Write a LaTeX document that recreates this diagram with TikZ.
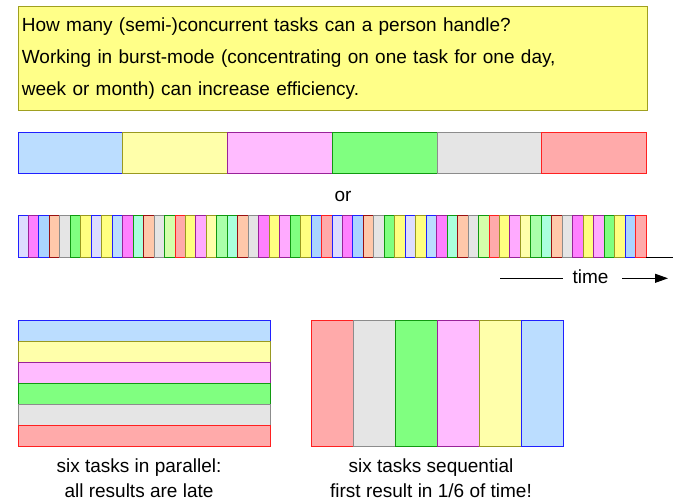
\documentclass[tikz,border=0pt]{standalone}
\usepackage{fontspec}
\setmainfont{Liberation Sans}
\usetikzlibrary{arrows.meta,positioning}
\definecolor{NoteFill}{HTML}{FFFF88}
\definecolor{NoteLine}{HTML}{A0A020}
\definecolor{TaskBlue}{HTML}{BBDDFF}
\definecolor{TaskYellow}{HTML}{FFFFAA}
\definecolor{TaskPink}{HTML}{FFBBFF}
\definecolor{TaskGreen}{HTML}{80FF80}
\definecolor{TaskGray}{HTML}{E5E5E5}
\definecolor{TaskRed}{HTML}{FFAAAA}
\definecolor{Lav}{HTML}{DDDDFF}
\definecolor{Mag}{HTML}{FF80FF}
\definecolor{Sky}{HTML}{AAD4FF}
\definecolor{Peach}{HTML}{FFC8AA}
\definecolor{Mint}{HTML}{AAFFDD}
\definecolor{Lime}{HTML}{D4FFAA}
\definecolor{LPink}{HTML}{FFAAFF}
\definecolor{LGreen}{HTML}{AAFFAA}
\definecolor{Yel}{HTML}{FFFF80}
\definecolor{LineBlue}{HTML}{2020FF}
\definecolor{LineOlive}{HTML}{999920}
\definecolor{LinePurple}{HTML}{992299}
\definecolor{LineGreen}{HTML}{109910}
\definecolor{LineGray}{HTML}{8C8C8C}
\definecolor{LineRed}{HTML}{FF2020}
\definecolor{LineDark}{HTML}{991010}
\tikzset{
  txt/.style={font=\fontsize{19}{32}\selectfont,text=black},
  note/.style={txt,draw=NoteLine,fill=NoteFill,line width=1pt,anchor=north west,minimum width=628.7pt,minimum height=104pt,text width=622pt,inner xsep=3pt,align=left},
  task/.style={rectangle,inner sep=0pt,outer sep=0pt,line width=1pt,anchor=north west},
  burst/.style={task,minimum width=104.78pt,minimum height=41pt},
  slice/.style={task,minimum width=10.4667pt,minimum height=42pt},
  lane/.style={task,minimum width=252pt,minimum height=21pt},
  column/.style={task,minimum width=42pt,minimum height=126pt},
  caption/.style={font=\fontsize{19}{25}\selectfont,align=center,inner sep=0pt,anchor=north},
  tblue/.style={fill=TaskBlue,draw=LineBlue},
  tyellow/.style={fill=TaskYellow,draw=LineOlive},
  tpink/.style={fill=TaskPink,draw=LinePurple},
  tgreen/.style={fill=TaskGreen,draw=LineGreen},
  tgray/.style={fill=TaskGray,draw=LineGray},
  tred/.style={fill=TaskRed,draw=LineRed},
  tlav/.style={fill=Lav,draw=LineBlue},
  tmag/.style={fill=Mag,draw=LinePurple},
  tsky/.style={fill=Sky,draw=LineBlue},
  tpeach/.style={fill=Peach,draw=LineDark},
  tmint/.style={fill=Mint,draw=LineGreen},
  tlime/.style={fill=Lime,draw=LineGreen},
  tlpink/.style={fill=LPink,draw=LinePurple},
  tpale/.style={fill=TaskYellow,draw=LineOlive},
  tlgreen/.style={fill=LGreen,draw=LineGreen},
  tyel/.style={fill=Yel,draw=LineOlive},
  axis/.style={draw=black,line width=0.9pt},
  timearr/.style={axis,-{Triangle[length=13pt,width=9pt]}}
}

\begin{document}
\begin{tikzpicture}[x=1pt,y=-1pt]
  \useasboundingbox (0,0) rectangle (673,501);
  \node[note] (question) at (18,6) {How many (semi-)concurrent tasks can a person handle?\\
    Working in burst-mode (concentrating on one task for one day,\\
    week or month) can increase efficiency.};

  % burst mode
  \node[burst,tblue] (burst-1) at (18,132) {};
  \node[burst,tyellow,right=0pt of burst-1] (burst-2) {};
  \node[burst,tpink,right=0pt of burst-2] (burst-3) {};
  \node[burst,tgreen,right=0pt of burst-3] (burst-4) {};
  \node[burst,tgray,right=0pt of burst-4] (burst-5) {};
  \node[burst,tred,right=0pt of burst-5] (burst-6) {};

  \node[txt,anchor=base] (or) at (343,201.7) {or};

  % switching all the time
  \foreach \k in {0,1}
    \foreach \s [count=\i] in {tlav,tmag,tsky,tpeach,tgray,tgreen,tyel,tlav,tyel,tblue,
        tmag,tmint,tpeach,tgray,tlime,tred,tyel,tlpink,tpale,tlgreen,
        tmint,tpeach,tgray,tmag,tyel,tlpink,tgreen,tyel,tsky,tred} {
      \pgfmathtruncatemacro{\n}{\k*30+\i}
      \node[slice,\s] (slice-\n) at ({18+(\n-1)*10.4667},215.3) {};
    }
  \coordinate (axisend) at (673,257.3);
  \draw[axis] (slice-60.south east) -- (axisend);

  \node[txt,anchor=base,inner xsep=9pt] (time) at (590.5,283.3) {time};
  \coordinate (tstart) at (500,278.3);
  \coordinate (tend) at (668,278.3);
  \draw[axis] (tstart) -- (tstart -| time.west);
  \draw[timearr,shorten <=4.5pt] (time.east |- tend) -- (tend);

  % parallel
  \node[lane,tblue] (par-1) at (18,320) {};
  \node[lane,tyellow,below=0pt of par-1] (par-2) {};
  \node[lane,tpink,below=0pt of par-2] (par-3) {};
  \node[lane,tgreen,below=0pt of par-3] (par-4) {};
  \node[lane,tgray,below=0pt of par-4] (par-5) {};
  \node[lane,tred,below=0pt of par-5] (par-6) {};
  \node[caption] (parcap) at (139,459) {six tasks in parallel:\\all results are late};

  % sequential
  \node[column,tred] (seq-1) at (311,320) {};
  \node[column,tgray,right=0pt of seq-1] (seq-2) {};
  \node[column,tgreen,right=0pt of seq-2] (seq-3) {};
  \node[column,tpink,right=0pt of seq-3] (seq-4) {};
  \node[column,tyellow,right=0pt of seq-4] (seq-5) {};
  \node[column,tblue,right=0pt of seq-5] (seq-6) {};
  \node[caption] (seqcap) at (431,459) {six tasks sequential\\first result in 1/6 of time!};
\end{tikzpicture}
\end{document}
